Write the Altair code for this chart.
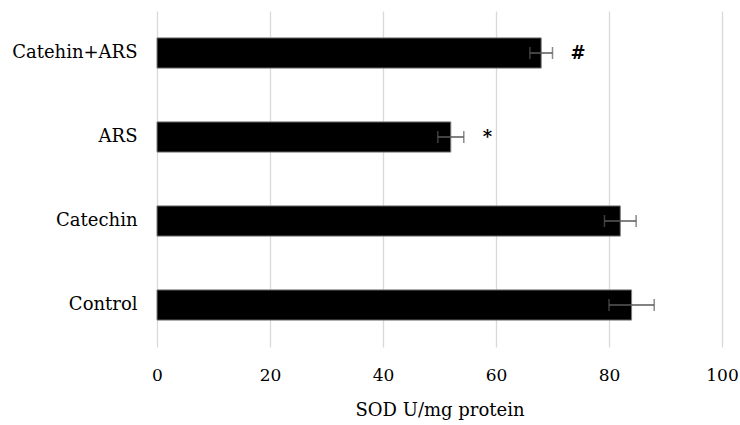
import altair as alt
import pandas as pd

groups = ["Catehin+ARS", "ARS", "Catechin", "Control"]
means = [68.0, 52.0, 82.0, 84.0]
errors = [2.0, 2.3, 2.8, 4.0]
marks = ["#", "*", "", ""]
mark_x = [74.5, 58.5, None, None]

df = pd.DataFrame({
    "group": groups,
    "mean": means,
    "lo": [m - e for m, e in zip(means, errors)],
    "hi": [m + e for m, e in zip(means, errors)],
    "mark": marks,
    "mx": mark_x,
})

FONT = "DejaVu Serif"

y_enc = alt.Y("group:N", sort=groups, title=None,
              scale=alt.Scale(paddingInner=0.64, paddingOuter=0.32),
              axis=alt.Axis(labelFont=FONT, labelFontSize=18, labelColor="#000000",
                            ticks=False, domain=False, labelPadding=20, grid=False))

x_scale = alt.Scale(domain=[0, 100], nice=False)

bars = alt.Chart(df).mark_bar(color="#000000", stroke="#7f7f7f", strokeWidth=1).encode(
    x=alt.X("mean:Q", scale=x_scale, title="SOD U/mg protein",
            axis=alt.Axis(values=[0, 20, 40, 60, 80, 100], labelFont=FONT, labelFontSize=17,
                          labelColor="#000000", labelFlush=False,
                          titleFont=FONT, titleFontSize=18,
                          titleFontWeight="normal", titleColor="#000000",
                          ticks=False, domain=False, labelPadding=20, titlePadding=18,
                          grid=True, gridColor="#d9d9d9", gridWidth=1.3)),
    y=y_enc,
)

err = alt.Chart(df).mark_rule(color="#595959", strokeWidth=1.5).encode(
    x=alt.X("lo:Q", scale=x_scale), x2="hi:Q", y=alt.Y("group:N", sort=groups))

cap_lo = alt.Chart(df).mark_tick(color="#595959", thickness=1.5, size=12, orient="vertical").encode(
    x=alt.X("lo:Q", scale=x_scale), y=alt.Y("group:N", sort=groups))
cap_hi = alt.Chart(df).mark_tick(color="#595959", thickness=1.5, size=12, orient="vertical").encode(
    x=alt.X("hi:Q", scale=x_scale), y=alt.Y("group:N", sort=groups))

labels = alt.Chart(df).transform_filter("datum.mark != ''").mark_text(
    font=FONT, fontSize=18, fontWeight="bold", color="#000000", align="center", baseline="middle", dy=1
).encode(x=alt.X("mx:Q", scale=x_scale), y=alt.Y("group:N", sort=groups), text="mark:N")

chart = alt.layer(bars, err, cap_lo, cap_hi, labels).properties(
    width=565, height=336,
    autosize=alt.AutoSizeParams(type="none"),
    padding={"left": 157, "top": 11, "right": 18, "bottom": 78},
    background="#ffffff",
).configure_view(stroke=None)

chart.save("out.html", embed_options={"renderer": "svg", "actions": False})
